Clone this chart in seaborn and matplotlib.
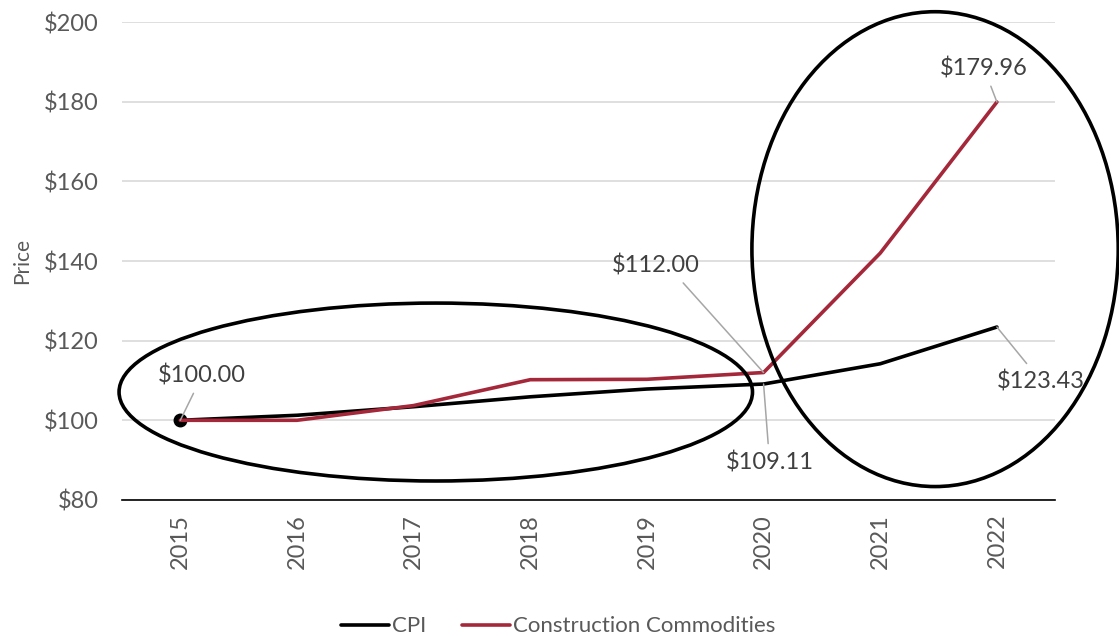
import matplotlib
matplotlib.use("Agg")
import matplotlib.pyplot as plt
from matplotlib.patches import Ellipse
from matplotlib.ticker import FixedLocator, FuncFormatter
import seaborn as sns
import pandas as pd

years = ["2015", "2016", "2017", "2018", "2019", "2020", "2021", "2022"]
cpi = [100.00, 101.26, 103.41, 105.90, 107.86, 109.11, 114.20, 123.43]
construction = [100.00, 100.00, 103.70, 110.20, 110.30, 112.00, 142.00, 179.96]
series_names = ["CPI", "Construction Commodities"]
colors = {"CPI": "#000000", "Construction Commodities": "#A4283A"}

df = pd.DataFrame({
    "Year": years * 2,
    "x": list(range(len(years))) * 2,
    "Price": cpi + construction,
    "Series": [series_names[0]] * len(years) + [series_names[1]] * len(years),
})

sns.set_theme(style="white")
plt.rcParams["font.family"] = ["Lato", "DejaVu Sans"]
TXT = "#595959"

fig = plt.figure(figsize=(11.19, 6.36), dpi=100)
ax = fig.add_axes([0.109, 0.214, 0.834, 0.751])

sns.lineplot(data=df, x="x", y="Price", hue="Series", palette=colors,
             linewidth=2.6, ax=ax, sort=False, legend=True)
ax.plot([0], [cpi[0]], "o", color="black", markersize=9, zorder=1)
for line in ax.lines:
    if line.get_label() == "Construction Commodities":
        line.set_zorder(3)

ax.set_xlim(-0.5, len(years) - 0.5)
ax.set_ylim(80, 200)
ax.set_yticks(range(80, 201, 20))
ax.yaxis.set_major_formatter(FuncFormatter(lambda v, p: f"${v:.0f}"))
ax.set_xticks(range(len(years)))
ax.set_xticklabels(years, rotation=90)
ax.xaxis.set_minor_locator(FixedLocator([i - 0.5 for i in range(len(years) + 1)]))
ax.tick_params(axis="x", which="major", length=0, pad=10, labelsize=17, labelcolor=TXT)
ax.tick_params(axis="x", which="minor", length=7, width=1.2, color="black", direction="out")
ax.tick_params(axis="y", length=0, pad=17, labelsize=17, labelcolor=TXT)
ax.grid(axis="y", color="#D9D9D9", linewidth=1.2)
ax.set_axisbelow(True)
for s in ["top", "right", "left"]:
    ax.spines[s].set_visible(False)
ax.spines["bottom"].set_color("black")
ax.spines["bottom"].set_linewidth(1.2)
ax.set_xlabel("")
ax.set_ylabel("Price", fontsize=15, color=TXT, labelpad=8)

# Annotations
ann = [
    (0, cpi[0], "$100.00", (22, 45), "arc3"),
    (5, construction[5], "$112.00", (-108, 107), "arc,angleA=0,armA=12,angleB=0,armB=0,rad=0"),
    (5, cpi[5], "$109.11", (6, -78), "arc3"),
    (7, construction[7], "$179.96", (-13, 34), "arc3"),
    (7, cpi[7], "$123.43", (44, -54), "arc3"),
]
for x, y, t, off, cs in ann:
    ax.annotate(t, xy=(x, y), xytext=off, textcoords="offset pixels",
                ha="center", va="center", fontsize=17, color="#404040",
                arrowprops=dict(arrowstyle="-", color="#A6A6A6", lw=1.1,
                                shrinkA=3, shrinkB=0, connectionstyle=cs),
                zorder=5)

# Ellipses
e1 = Ellipse((2.19, 107.1), 5.43, 44.7, fill=False, edgecolor="black", lw=2.6, clip_on=False, zorder=4)
e2 = Ellipse((6.47, 143.0), 3.14, 119.3, fill=False, edgecolor="black", lw=2.6, clip_on=False, zorder=4)
ax.add_patch(e1)
ax.add_patch(e2)

leg = ax.legend(loc="center", bbox_to_anchor=(0.467, -0.265), ncol=2, frameon=False,
                fontsize=16, handlelength=2.2, handletextpad=0.1, columnspacing=1.6)
for t in leg.get_texts():
    t.set_color(TXT)
for h in leg.get_lines():
    h.set_linewidth(2.6)

fig.savefig("out.png", dpi=100)
